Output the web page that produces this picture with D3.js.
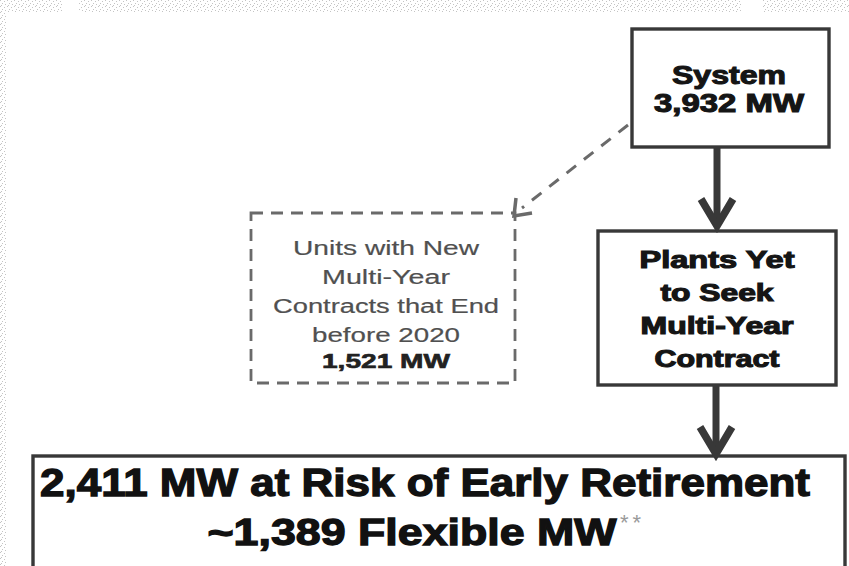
<!DOCTYPE html>
<html>
<head>
<meta charset="utf-8">
<script src="https://cdn.jsdelivr.net/npm/d3@7"></script>
<style>
body { margin: 0; background: #fff; }
svg { display: block; }
</style>
</head>
<body>
<div id="chart"></div>
<script>
// values shown in the flow diagram
var mwValues = [3932, 1521, 2411, 1389];   // system, contracted, at risk, flexible
var systemLabel = ["System"];
var plantsLabel = ["Plants Yet", "to Seek", "Multi-Year", "Contract"];
var contractLabel = ["Units with New", "Multi-Year", "Contracts that End", "before 2020"];
var riskLabel = ["MW at Risk of Early Retirement", "Flexible MW"];

var fmt = d3.format(",");
var width = 849, height = 566;
var dark = "#383838";

var svg = d3.select("#chart").append("svg")
    .attr("width", width)
    .attr("height", height);

// scanned stipple texture along the top and left edges
var defs = svg.append("defs");
var pat = defs.append("pattern")
    .attr("id", "stip")
    .attr("width", 7)
    .attr("height", 6)
    .attr("patternUnits", "userSpaceOnUse");
[[0,0],[4,1],[2,3],[5,4],[1,5]].forEach(function(p) {
    pat.append("rect").attr("x", p[0]).attr("y", p[1])
        .attr("width", 1).attr("height", 1).attr("fill", "#c4c4c4");
});
var bands = [[0, 0, 62, 12], [79, 0, 663, 12], [762, 0, 87, 12], [0, 12, 7, 554]];
svg.selectAll("rect.band").data(bands).enter().append("rect")
    .attr("class", "band")
    .attr("x", function(d) { return d[0]; })
    .attr("y", function(d) { return d[1]; })
    .attr("width", function(d) { return d[2]; })
    .attr("height", function(d) { return d[3]; })
    .attr("fill", "url(#stip)");

// helper: write centred text lines stretched to measured widths
function lines(data, cx, y0, step, size, widths, weight, color, sw) {
    svg.append("g").selectAll("text").data(data).enter().append("text")
        .attr("x", cx)
        .attr("y", function(d, i) { return y0 + i * step; })
        .attr("text-anchor", "middle")
        .attr("font-family", "'Liberation Sans', Arial, sans-serif")
        .attr("font-size", size)
        .attr("font-weight", weight)
        .attr("fill", color)
        .attr("stroke", sw ? color : "none")
        .attr("stroke-width", sw || 0)
        .attr("textLength", function(d, i) { return widths[i]; })
        .attr("lengthAdjust", "spacingAndGlyphs")
        .text(function(d) { return d; });
}

// solid boxes
var boxes = [
    {x: 632, y: 29, w: 197, h: 118},
    {x: 598, y: 231, w: 238, h: 154},
    {x: 33, y: 456, w: 812, h: 120}
];
svg.selectAll("rect.box").data(boxes).enter().append("rect")
    .attr("class", "box")
    .attr("x", function(d) { return d.x; })
    .attr("y", function(d) { return d.y; })
    .attr("width", function(d) { return d.w; })
    .attr("height", function(d) { return d.h; })
    .attr("fill", "#fff")
    .attr("stroke", dark)
    .attr("stroke-width", 3.4);

// dashed box
svg.append("rect")
    .attr("x", 251).attr("y", 213)
    .attr("width", 264).attr("height", 170)
    .attr("fill", "none")
    .attr("stroke", "#6a6a6a")
    .attr("stroke-width", 2.8)
    .attr("stroke-dasharray", "12,8");

// solid arrows
var arrows = [[717, 148, 229], [716, 386, 457]];
arrows.forEach(function(a) {
    var g = svg.append("g").attr("stroke", dark).attr("fill", "none");
    g.append("line").attr("x1", a[0]).attr("x2", a[0])
        .attr("y1", a[1]).attr("y2", a[2] - 3)
        .attr("stroke-width", 7);
    g.append("path")
        .attr("d", d3.line()([[a[0] - 16, a[2] - 30], [a[0], a[2] - 3], [a[0] + 16, a[2] - 30]]))
        .attr("stroke-width", 7.5)
        .attr("stroke-linejoin", "miter");
});

// dashed arrow from system box to contracted box
svg.append("line")
    .attr("x1", 628).attr("y1", 125)
    .attr("x2", 522).attr("y2", 208)
    .attr("stroke", "#6a6a6a")
    .attr("stroke-width", 3)
    .attr("stroke-dasharray", "12,10");
svg.append("path")
    .attr("d", d3.line()([[516, 198], [514, 216], [532, 213]]))
    .attr("stroke", "#6a6a6a")
    .attr("stroke-width", 3.5)
    .attr("fill", "none");

// texts
lines([systemLabel[0], fmt(mwValues[0]) + "  MW"], 729, 84, 28, 26, [114, 150], "bold", "#151515", 1.1);
lines(plantsLabel, 717, 268, 33, 23, [155, 113, 153, 125], "bold", "#151515", 1.1);
lines(contractLabel, 386, 255, 29, 20, [186, 128, 226, 148], "normal", "#505050", 0.2);
lines([fmt(mwValues[1]) + " MW"], 386, 368, 0, 20, [128], "bold", "#222", 0.6);

lines([fmt(mwValues[2]) + " " + riskLabel[0]], 425, 496, 0, 39, [770], "bold", "#111", 1.3);
lines(["~" + fmt(mwValues[3]) + " " + riskLabel[1]], 412, 545, 0, 37, [409], "bold", "#111", 1.3);
svg.append("text")
    .attr("x", 620).attr("y", 530)
    .attr("font-family", "'Liberation Sans', Arial, sans-serif")
    .attr("font-size", 22)
    .attr("fill", "#9a9a9a")
    .attr("letter-spacing", 4)
    .text("**");
</script>
</body>
</html>
